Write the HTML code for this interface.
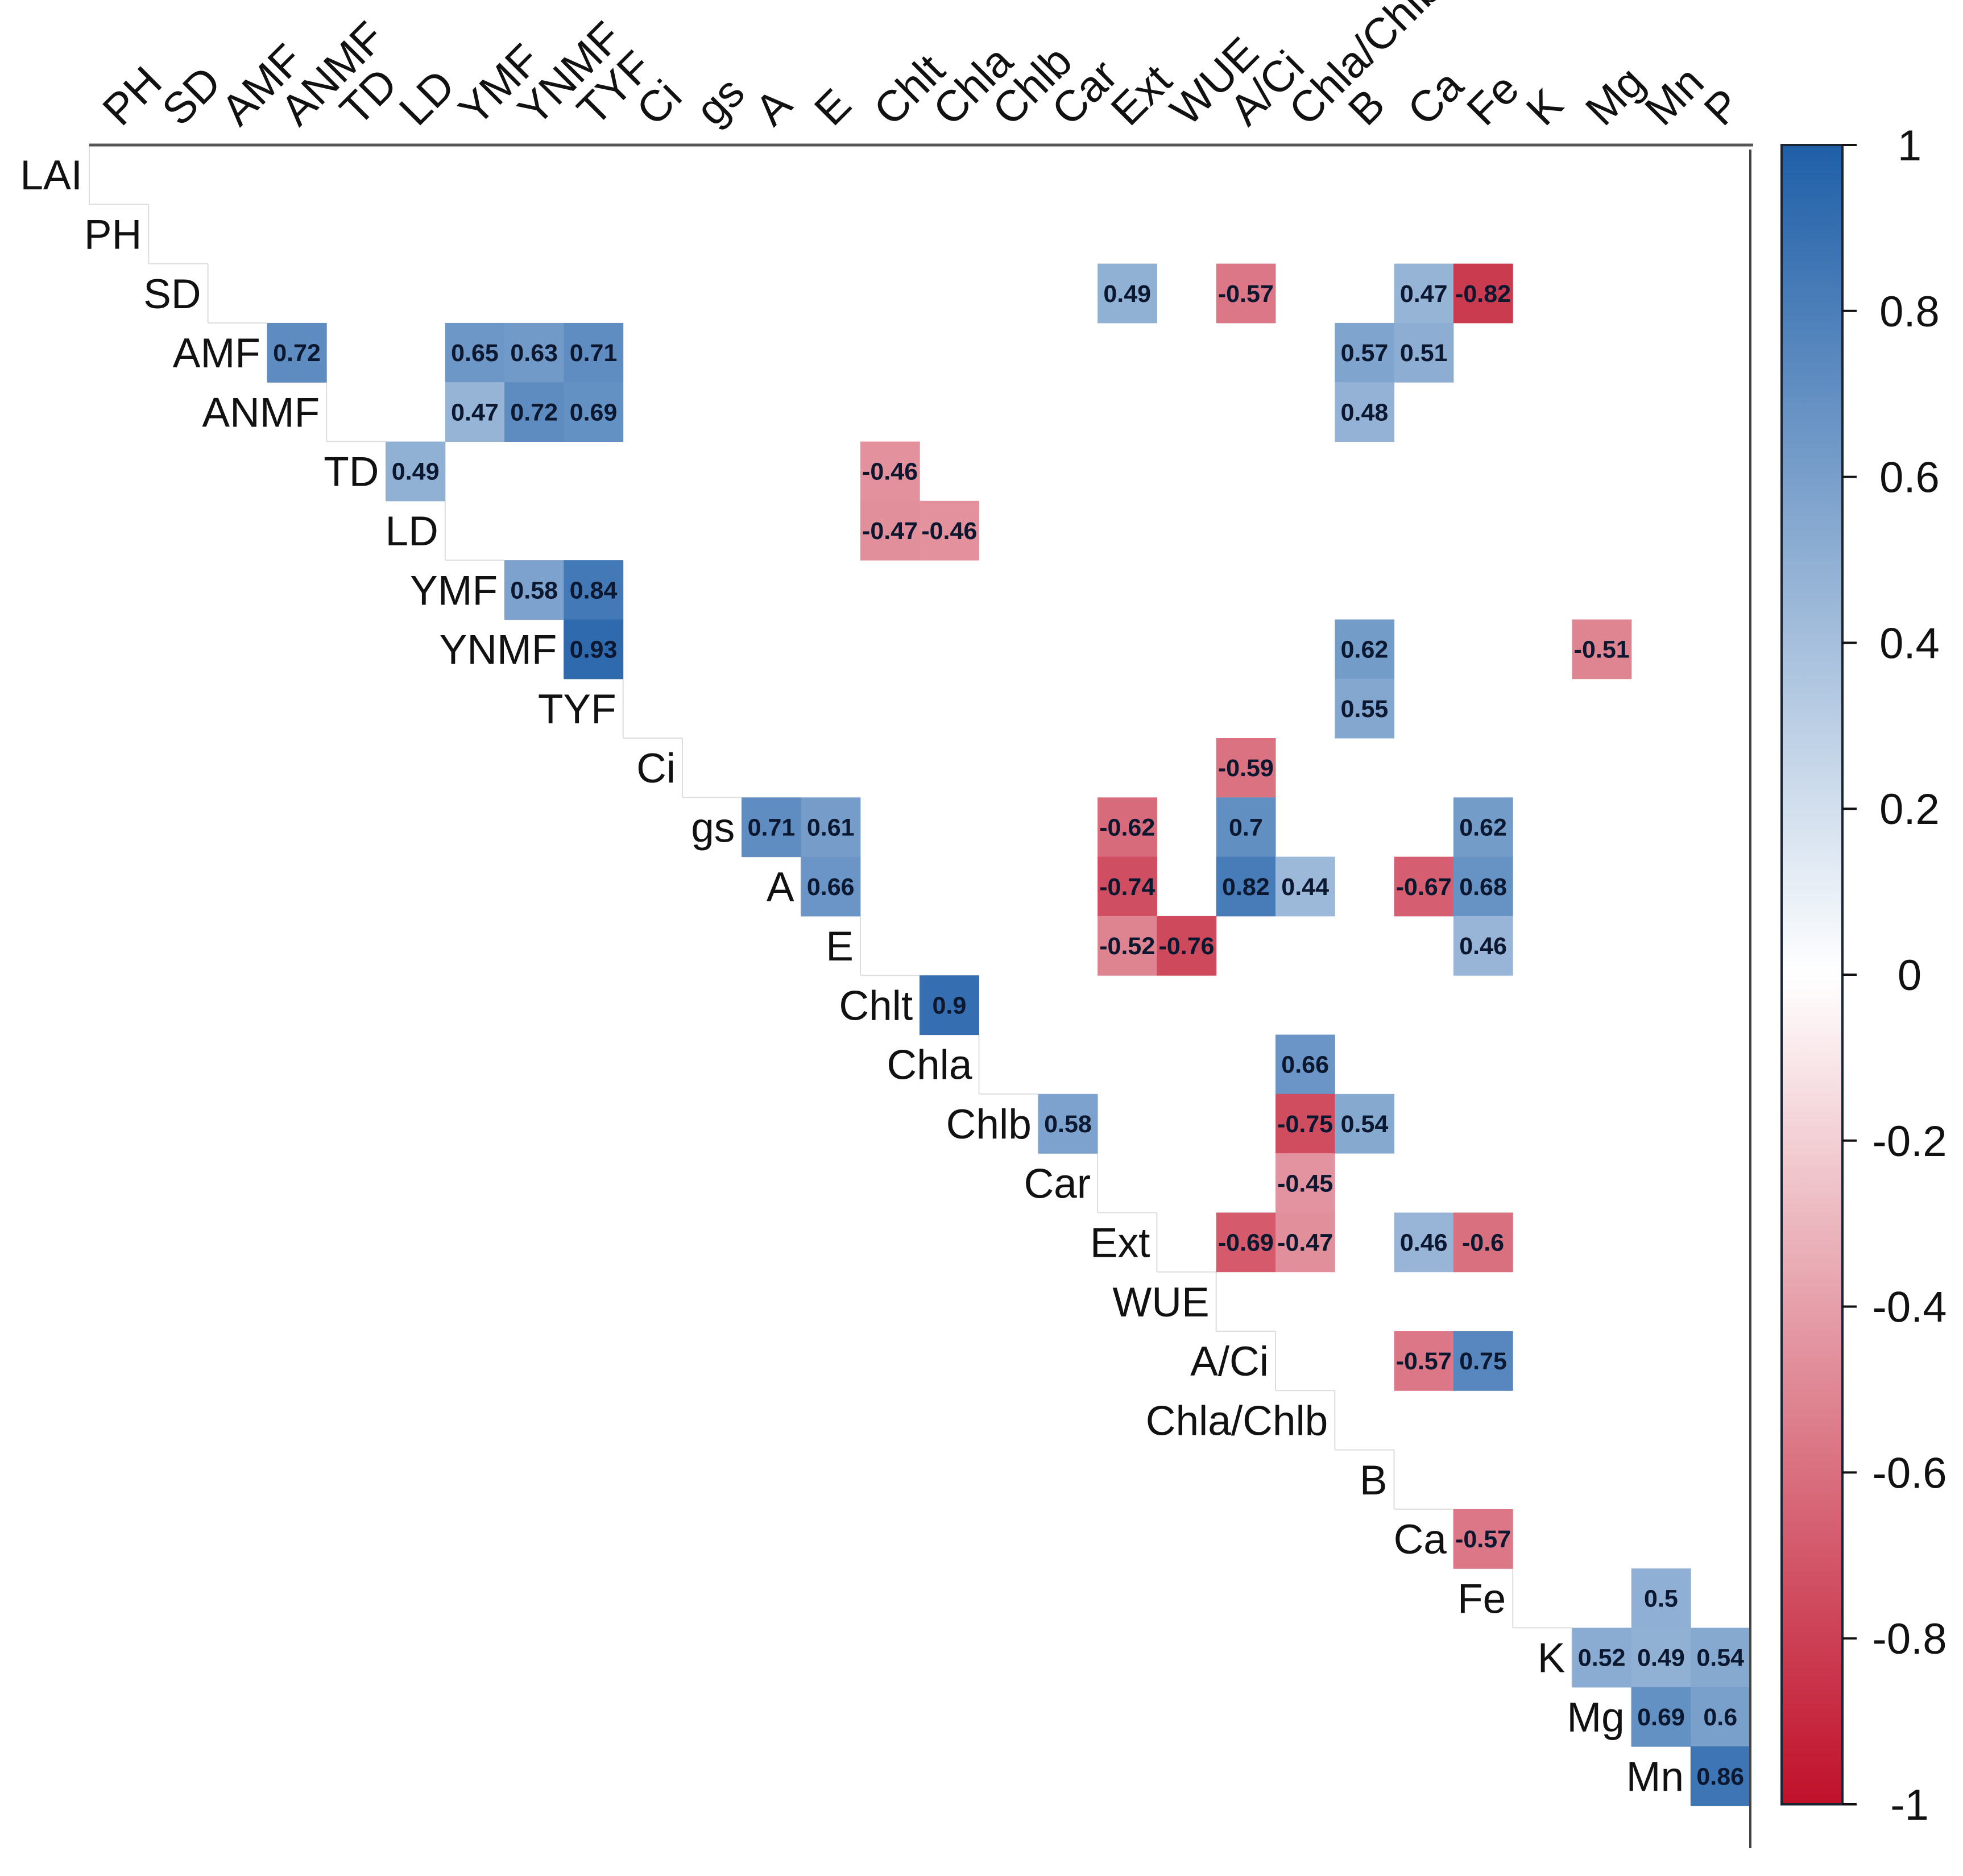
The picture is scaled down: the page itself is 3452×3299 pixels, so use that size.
<!DOCTYPE html>
<html><head><meta charset="utf-8"><style>
html,body{margin:0;padding:0;background:#fff;}
svg{display:block;}
text{font-family:"Liberation Sans",Arial,sans-serif;}
</style></head><body>
<svg id="chart" width="3452" height="3299" viewBox="0 0 3452 3299" xmlns="http://www.w3.org/2000/svg">
<defs>
<linearGradient id="cbg" x1="0" y1="0" x2="0" y2="1">
<stop offset="0" stop-color="#1f5fa8"/>
<stop offset="0.5" stop-color="#ffffff"/>
<stop offset="1" stop-color="#c0102a"/>
</linearGradient>
</defs>
<g id="stairs"></g>
<g id="cells"></g>
<g id="rowlabels"></g>
<g id="collabels"></g>
<g id="frame"></g>
<g id="colorbar"></g>
</svg>
<script>
const variables = ["LAI","PH","SD","AMF","ANMF","TD","LD","YMF","YNMF","TYF","Ci","gs","A","E","Chlt","Chla","Chlb","Car","Ext","WUE","A/Ci","Chla/Chlb","B","Ca","Fe","K","Mg","Mn","P"];
const cellRows = [2,2,2,2, 3,3,3,3,3,3, 4,4,4,4, 5,5, 6,6, 7,7, 8,8,8, 9, 10, 11,11,11,11,11, 12,12,12,12,12,12, 13,13,13, 14, 15, 16,16,16, 17, 18,18,18,18, 20,20, 23, 24, 25,25,25, 26,26, 27];
const cellCols = [18,20,23,24, 4,7,8,9,22,23, 7,8,9,22, 6,14, 14,15, 8,9, 9,22,26, 22, 20, 12,13,18,20,24, 13,18,20,21,23,24, 18,19,24, 15, 21, 17,21,22, 21, 20,21,23,24, 23,24, 24, 27, 26,27,28, 27,28, 28];
const cellValues = [0.49,-0.57,0.47,-0.82, 0.72,0.65,0.63,0.71,0.57,0.51, 0.47,0.72,0.69,0.48, 0.49,-0.46, -0.47,-0.46, 0.58,0.84, 0.93,0.62,-0.51, 0.55, -0.59, 0.71,0.61,-0.62,0.7,0.62, 0.66,-0.74,0.82,0.44,-0.67,0.68, -0.52,-0.76,0.46, 0.9, 0.66, 0.58,-0.75,0.54, -0.45, -0.69,-0.47,0.46,-0.6, -0.57,0.75, -0.57, 0.5, 0.52,0.49,0.54, 0.69,0.6, 0.86];
const colorbarTicks = [1,0.8,0.6,0.4,0.2,0,-0.2,-0.4,-0.6,-0.8,-1];

const NS="http://www.w3.org/2000/svg";
const GX=157, GY=255, CS=104.3;
const xLeft = j => GX + (j-1)*CS;
const yTop = i => GY + i*CS;
const CB_TOP=255, CB_BOT=3173, CB_L=3133, CB_R=3240;
const cbY = v => CB_TOP + (1-v)/2*(CB_BOT-CB_TOP);
function color(v){
  const a=Math.min(1,Math.abs(v));
  const t = v>=0 ? [31,95,168] : [192,16,42];
  const c = t.map(x=>Math.round(255+(x-255)*a));
  return `rgb(${c[0]},${c[1]},${c[2]})`;
}
function mk(tag, attrs, parent){
  const e=document.createElementNS(NS,tag);
  for(const k in attrs) e.setAttribute(k,attrs[k]);
  parent.appendChild(e); return e;
}
const stairs=document.getElementById('stairs');
for(let i=0;i<28;i++){
  const l1=mk('line',{x1:xLeft(i+1),y1:yTop(i),x2:xLeft(i+1),y2:yTop(i+1),stroke:'#ddd','stroke-width':2},stairs);
  
  
  const l2=mk('line',{x1:xLeft(i+1),y1:yTop(i+1),x2:xLeft(i+2),y2:yTop(i+1),stroke:'#ddd','stroke-width':2},stairs);
  
  
}
const cells=document.getElementById('cells');
for(let k=0;k<cellValues.length;k++){
  const i=cellRows[k], j=cellCols[k], v=cellValues[k];
  const r=mk('rect',{x:xLeft(j),y:yTop(i),width:CS+0.5,height:CS+0.5,fill:color(v)},cells);
  
  
  const t=mk('text',{x:xLeft(j)+CS/2,y:yTop(i)+CS/2+15,'text-anchor':'middle','font-size':43,'font-weight':'bold',fill:'#0b1830'},cells);
  t.textContent=String(v);
  
  
}
const rl=document.getElementById('rowlabels');
for(let i=0;i<28;i++){
  const t=mk('text',{x:xLeft(i+1)-12,y:yTop(i)+CS/2+26,'text-anchor':'end','font-size':73,fill:'#111'},rl);
  t.textContent=variables[i];
  
  
}
const cl=document.getElementById('collabels');
for(let j=1;j<29;j++){
  const x=xLeft(j)+CS/2+4, y=225;
  const t=mk('text',{x:x,y:y,'font-size':77,fill:'#111',transform:`rotate(-45 ${x} ${y})`},cl);
  t.textContent=variables[j];
  
  
}
const fr=document.getElementById('frame');
const topBorder=mk('line',{x1:GX,y1:GY,x2:3083,y2:GY,stroke:'#555','stroke-width':5},fr);


const rightBorder=mk('line',{x1:3078,y1:GY+8,x2:3078,y2:3250,stroke:'#444','stroke-width':4},fr);


const cb=document.getElementById('colorbar');
const bar=mk('rect',{x:CB_L,y:CB_TOP,width:CB_R-CB_L,height:CB_BOT-CB_TOP,fill:'url(#cbg)',stroke:'#1a2533','stroke-width':4},cb);


for(const v of colorbarTicks){
  const y=cbY(v);
  const tk=mk('line',{x1:CB_R,y1:y,x2:CB_R+25,y2:y,stroke:'#111','stroke-width':4},cb);
  
  
  const t=mk('text',{x:3358,y:y+27,'text-anchor':'middle','font-size':76,fill:'#111'},cb);
  t.textContent=String(v);
  
  
}
</script>
</body></html>
